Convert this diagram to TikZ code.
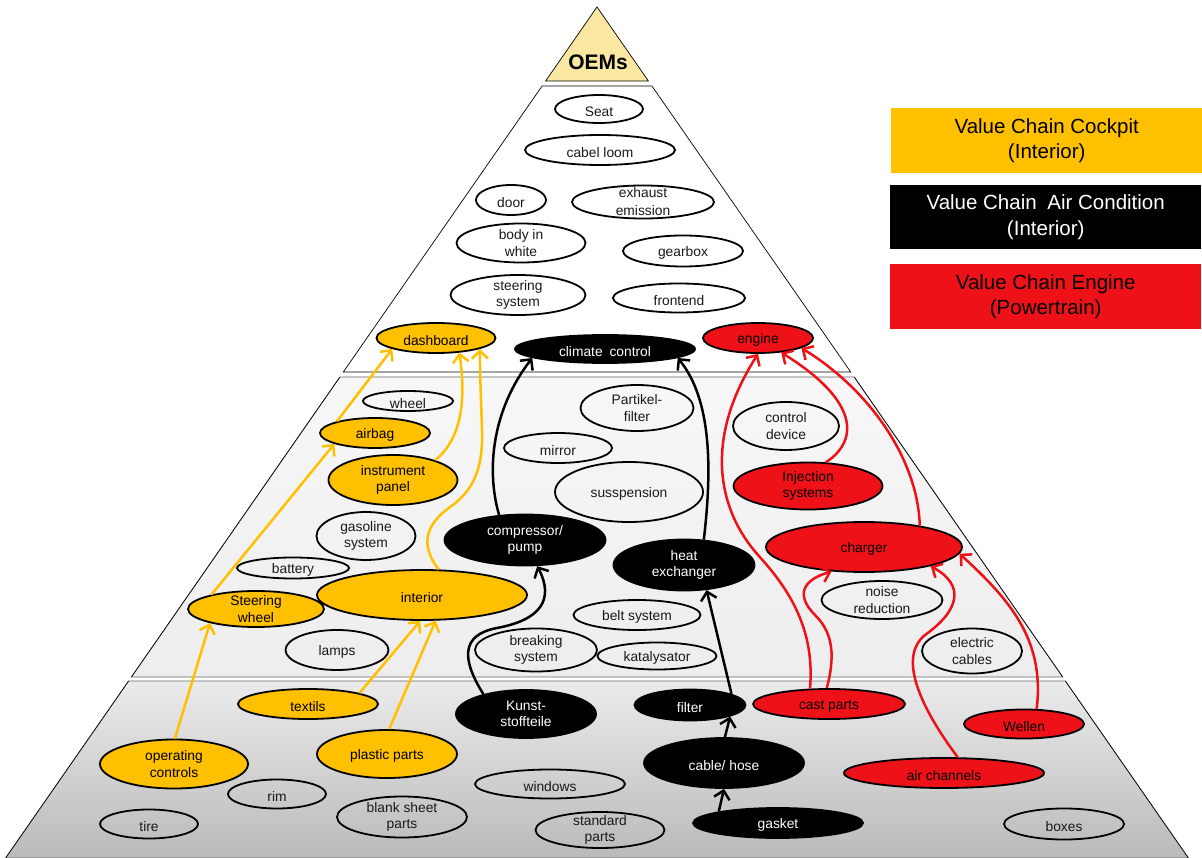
\documentclass[tikz,border=0pt]{standalone}
\usepackage{fontspec}
\setmainfont{Liberation Sans}
\usetikzlibrary{shapes.geometric,arrows.meta}
\definecolor{cyel}{HTML}{FFC000}
\definecolor{cred}{HTML}{EE1118}
\definecolor{oemy}{HTML}{FAE8A2}
\begin{document}
\begin{tikzpicture}[x=1pt,y=-1pt,
  el/.style={ellipse,draw=black,line width=1.8pt,inner xsep=0pt,inner ysep=-6pt,align=center,
    font=\fontsize{13.8}{16.5}\selectfont,text=black!90,execute at begin node={\rule{0pt}{14.5pt}}},
  wh/.style={el},
  ye/.style={el,fill=cyel,text=black},
  bk/.style={el,fill=black,text=white},
  rd/.style={el,fill=cred,text=black},
  conn/.style={line width=2.5pt,-{Straight Barb[length=8pt,width=16pt]}},
  cy/.style={conn,draw=cyel},
  ck/.style={conn,draw=black},
  cr/.style={conn,draw=cred},
  legend/.style={anchor=north west,minimum width=311pt,minimum height=65pt,inner sep=0pt,align=center,
    font=\fontsize{20.5}{25.5}\selectfont},
  band/.style={draw=black!60,line width=0.8pt}
]
\useasboundingbox (0,0) rectangle (1202,858);
% pyramid bands
\fill[oemy] (597,7) -- (648.4,81) -- (545.6,81) -- cycle;
\draw[black,line width=0.7pt] (597,7) -- (648.4,81) -- (545.6,81) -- cycle;
\filldraw[fill=white,draw=black,line width=0.7pt] (542.1,86) -- (651.9,86) -- (850.7,372) -- (343.3,372) -- cycle;
\shade[top color=white!97!black,bottom color=white!93!black] (339.9,377) -- (854.2,377) -- (1062.7,677) -- (131.4,677) -- cycle;
\draw[band] (339.9,377) -- (854.2,377) -- (1062.7,677) -- (131.4,677) -- cycle;
\shade[top color=white!92!black,bottom color=white!73!black] (128.6,681) -- (1065.4,681) -- (1188.4,858) -- (5.6,858) -- cycle;
\draw[band] (128.6,681) -- (1065.4,681) -- (1188.4,858) -- (5.6,858) -- cycle;
\draw[black,line width=0.6pt] (339.9,377) -- (131.4,677) (854.2,377) -- (1062.7,677)
  (128.6,681) -- (5.6,858) (1065.4,681) -- (1188.4,858);
\node[font=\bfseries\fontsize{21}{21}\selectfont] (oem) at (598,62) {OEMs};
% legend
\node[legend,fill=cyel,text=black] (lg1) at (891,108) {Value Chain Cockpit\\(Interior)};
\node[legend,fill=black,text=white,minimum height=64pt] (lg2) at (890,185) {Value Chain\hspace{5pt} Air Condition\\(Interior)};
\node[legend,fill=cred,text=black] (lg3) at (890,264) {Value Chain Engine\\(Powertrain)};
% top layer
\node[wh,minimum width=88pt,minimum height=28pt] (seat) at (599,109) {Seat};
\node[wh,minimum width=150pt,minimum height=30pt] (loom) at (600,150) {cabel loom};
\node[wh,minimum width=70pt,minimum height=30pt] (door) at (511,200) {door};
\node[wh,minimum width=142pt,minimum height=33pt,font=\fontsize{13.8}{18}\selectfont] (exh) at (643,202) {exhaust\\emission};
\node[wh,minimum width=129pt,minimum height=39pt] (biw) at (521,243) {body in\\white};
\node[wh,minimum width=120pt,minimum height=31pt] (gear) at (683,251) {gearbox};
\node[wh,minimum width=135pt,minimum height=40pt] (ster) at (518,295) {steering\\system};
\node[wh,minimum width=132pt,minimum height=29pt] (front) at (679,298) {frontend};
\node[ye,minimum width=119pt,minimum height=30pt] (dash) at (436,338) {dashboard};
\node[bk,minimum width=180pt,minimum height=28pt] (clim) at (605,349) {climate\hspace{3pt} control};
\node[rd,minimum width=110pt,minimum height=30pt] (eng) at (758,338) {engine};
% middle layer
\node[wh,minimum width=90pt,minimum height=20pt] (wheel) at (408,401) {wheel};
\node[wh,minimum width=113pt,minimum height=46pt] (part) at (637,408) {Partikel-\\filter};
\node[ye,minimum width=110pt,minimum height=30pt] (airbag) at (375,433) {airbag};
\node[wh,minimum width=106pt,minimum height=48pt] (ctrl) at (786,426) {control\\device};
\node[wh,minimum width=108pt,minimum height=30pt] (mirror) at (558,448) {mirror};
\node[ye,minimum width=129pt,minimum height=50pt] (instr) at (393,480) {instrument\\panel};
\node[wh,minimum width=148pt,minimum height=60pt] (susp) at (629,492) {susspension};
\node[rd,minimum width=149pt,minimum height=47pt] (inj) at (808,486) {Injection\\systems};
\node[wh,minimum width=99pt,minimum height=48pt] (gas) at (366,536) {gasoline\\system};
\node[bk,minimum width=161pt,minimum height=51pt] (comp) at (525,540) {compressor/\\pump};
\node[bk,minimum width=141pt,minimum height=51pt] (heat) at (684,565) {heat\\exchanger};
\node[rd,minimum width=196pt,minimum height=50pt] (charg) at (864,547) {charger};
\node[wh,minimum width=112pt,minimum height=21pt] (batt) at (293,568) {battery};
\node[ye,minimum width=210pt,minimum height=50pt] (inter) at (422,595) {interior};
\node[ye,minimum width=136pt,minimum height=36pt] (stw) at (256,609) {Steering\\wheel};
\node[wh,minimum width=127pt,minimum height=30pt] (belt) at (637,615) {belt system};
\node[wh,minimum width=121pt,minimum height=38pt] (noise) at (882,600) {noise\\reduction};
\node[wh,minimum width=103pt,minimum height=40pt] (lamps) at (337,650) {lamps};
\node[wh,minimum width=122pt,minimum height=43pt] (brk) at (536,650) {breaking\\system};
\node[wh,minimum width=119pt,minimum height=27pt] (kat) at (657,656) {katalysator};
\node[wh,minimum width=100pt,minimum height=45pt] (elec) at (972,651) {electric\\cables};
% bottom layer
\node[ye,minimum width=140pt,minimum height=30pt] (tex) at (308,704) {textils};
\node[bk,minimum width=140pt,minimum height=48pt] (kunst) at (526,714) {Kunst-\\stoffteile};
\node[bk,minimum width=111pt,minimum height=31pt] (filt) at (690,705) {filter};
\node[rd,minimum width=152pt,minimum height=30pt] (cast) at (829,704) {cast parts};
\node[rd,minimum width=120pt,minimum height=29pt] (well) at (1024,724) {Wellen};
\node[ye,minimum width=148pt,minimum height=49pt] (opc) at (174,764) {operating\\controls};
\node[ye,minimum width=140pt,minimum height=48pt] (plas) at (387,754) {plastic parts};
\node[bk,minimum width=160pt,minimum height=50pt] (cab) at (724,763) {cable/ hose};
\node[rd,minimum width=200pt,minimum height=30pt] (air) at (944,773) {air channels};
\node[wh,minimum width=98pt,minimum height=29pt] (rim) at (277,794) {rim};
\node[wh,minimum width=150pt,minimum height=29pt] (win) at (550,784) {windows};
\node[wh,minimum width=98pt,minimum height=29pt] (tire) at (149,824) {tire};
\node[wh,minimum width=130pt,minimum height=41pt] (blank) at (402,817) {blank sheet\\parts};
\node[wh,minimum width=129pt,minimum height=36pt] (std) at (600,830) {standard\\parts};
\node[bk,minimum width=170pt,minimum height=30pt] (gask) at (778,823) {gasket};
\node[wh,minimum width=120pt,minimum height=31pt] (box) at (1064,824) {boxes};
% cockpit chain
\draw[cy] (opc.88) -- (stw.197);
\draw[cy] (stw.162) -- (airbag.195);
\draw[cy] (airbag.163) -- (dash.194);
\draw[cy] (instr.25) .. controls (462,438) and (466,400) .. (dash.328);
\draw[cy] (inter.57) .. controls (420,545) and (425,525) .. (450,507) .. controls (478,488) and (483,460) .. (482,430) .. controls (481,400) and (480,375) .. (dash.346);
\draw[cy] (tex.12) -- (inter.266);
\draw[cy] (plas.85) -- (inter.298);
% air condition chain
\draw[ck] (kunst.155) .. controls (462,660) and (460,635) .. (497,628) .. controls (540,620) and (555,600) .. (comp.295);
\draw[ck] (comp.136) .. controls (486,470) and (492,410) .. (clim.187);
\draw[ck] (heat.52) .. controls (712,470) and (712,400) .. (clim.353);
\draw[ck] (filt.15) -- (heat.312);
\draw[ck] (cab.88) -- (filt.344);
\draw[ck] (gask.169) -- (cab.270);
% engine chain
\draw[cr] (cast.141) .. controls (815,630) and (790,590) .. (758,555) .. controls (718,510) and (703,440) .. (eng.270);
\draw[cr] (cast.98) .. controls (837,650) and (830,630) .. (815,615) .. controls (800,600) and (796,582) .. (charg.217);
\draw[cr] (inj.53) .. controls (860,440) and (858,400) .. (eng.328);
\draw[cr] (charg.21) .. controls (918,460) and (870,390) .. (eng.347);
\draw[cr] (air.49) .. controls (915,700) and (900,655) .. (925,635) .. controls (960,610) and (965,585) .. (charg.344);
\draw[cr] (well.50) .. controls (1045,640) and (1010,600) .. (charg.356);
\end{tikzpicture}
\end{document}
